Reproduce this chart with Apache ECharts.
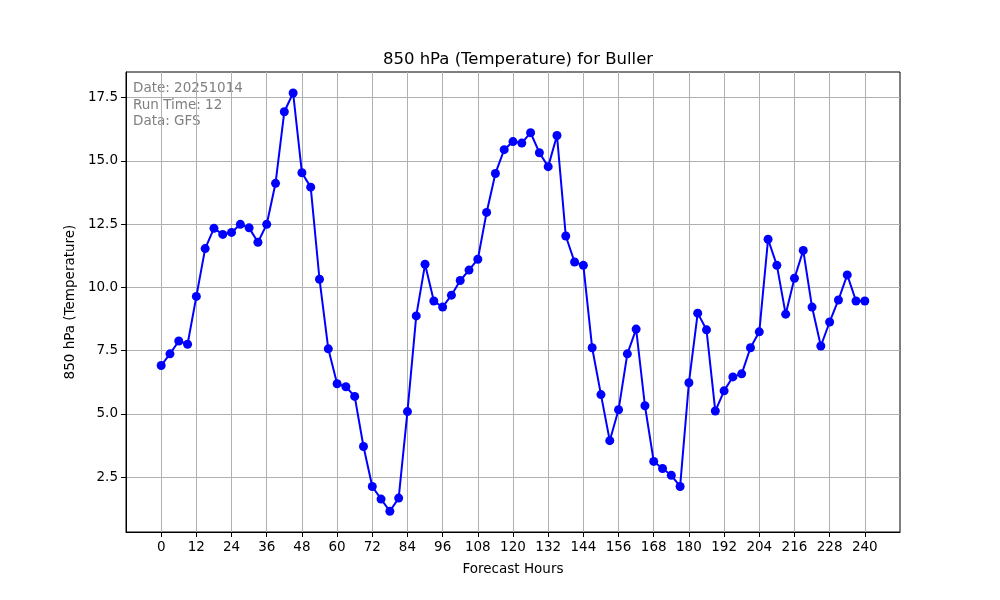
<!DOCTYPE html>
<html>
<head>
<meta charset="utf-8">
<script src="https://cdn.jsdelivr.net/npm/echarts@6/dist/echarts.min.js"></script>
<style>html,body{margin:0;padding:0;background:#fff}#c{width:1000px;height:600px}</style>
</head>
<body>
<div id="c"></div>
<script>
const hours = [];
for (let h = 0; h <= 240; h += 3) hours.push(h);
const temps = [6.91,7.37,7.88,7.75,9.64,11.53,12.33,12.09,12.17,12.49,12.35,11.78,12.49,14.11,16.94,17.68,14.53,13.96,10.32,7.57,6.19,6.07,5.69,3.71,2.13,1.63,1.15,1.67,5.09,8.87,10.91,9.46,9.22,9.69,10.27,10.68,11.11,12.96,14.5,15.44,15.76,15.7,16.11,15.32,14.77,16.0,12.03,11.0,10.87,7.61,5.76,3.94,5.16,7.37,8.35,5.32,3.12,2.84,2.57,2.13,6.23,8.98,8.32,5.11,5.91,6.46,6.58,7.61,8.24,11.9,10.87,8.94,10.36,11.46,9.22,7.68,8.63,9.5,10.49,9.46,9.46];
const xTicks = [0,12,24,36,48,60,72,84,96,108,120,132,144,156,168,180,192,204,216,228,240];
const yTicks = [2.5,5.0,7.5,10.0,12.5,15.0,17.5];
const infoLines = ['Date: 20251014','Run Time: 12','Data: GFS'];

const chart = echarts.init(document.getElementById('c'));
const font = 'DejaVu Sans';
chart.setOption({
  animation: false,
  backgroundColor: '#fff',
  title: {
    text: '850 hPa (Temperature) for Buller',
    left: 513, top: 46, textAlign: 'center',
    textStyle: {fontFamily: font, fontSize: 16.5, fontWeight: 'normal', color: '#000'}
  },
  graphic: [{
    type: 'text', left: 133, top: 80,
    style: {text: infoLines.join('\n'), fontFamily: font, fontSize: 13.5, lineHeight: 16.7, fill: '#808080'}
  }],
  grid: {left: 126, top: 72, width: 774, height: 460, show: true, borderColor: '#000', borderWidth: 1, backgroundColor: 'transparent'},
  xAxis: {
    type: 'value', min: -12, max: 252,
    name: 'Forecast Hours', nameLocation: 'middle', nameGap: 30,
    nameTextStyle: {fontFamily: font, fontSize: 13.5, color: '#000'},
    axisLine: {show: true, onZero: false, lineStyle: {color: '#000', width: 1}},
    axisTick: {show: true, length: 5, lineStyle: {color: '#000'}, customValues: xTicks},
    axisLabel: {fontFamily: font, fontSize: 13.5, color: '#000', margin: 8, customValues: xTicks},
    splitLine: {show: true, lineStyle: {color: '#b0b0b0', width: 1}}
  },
  yAxis: {
    type: 'value', min: 0.33, max: 18.51,
    name: '850 hPa (Temperature)', nameLocation: 'middle', nameGap: 48,
    nameTextStyle: {fontFamily: font, fontSize: 13.5, color: '#000'},
    axisLine: {show: true, onZero: false, lineStyle: {color: '#000', width: 1}},
    axisTick: {show: true, length: 5, lineStyle: {color: '#000'}, customValues: yTicks},
    axisLabel: {fontFamily: font, fontSize: 13.5, color: '#000', margin: 8, customValues: yTicks, formatter: v => v.toFixed(1)},
    splitLine: {show: true, lineStyle: {color: '#b0b0b0', width: 1}}
  },
  series: [{
    type: 'line',
    data: hours.map((h, i) => [h, temps[i]]),
    lineStyle: {color: '#0000ff', width: 2},
    itemStyle: {color: '#0000ff'},
    symbol: 'circle', symbolSize: 9, showSymbol: true,
    z: 5
  }]
});
</script>
</body>
</html>
